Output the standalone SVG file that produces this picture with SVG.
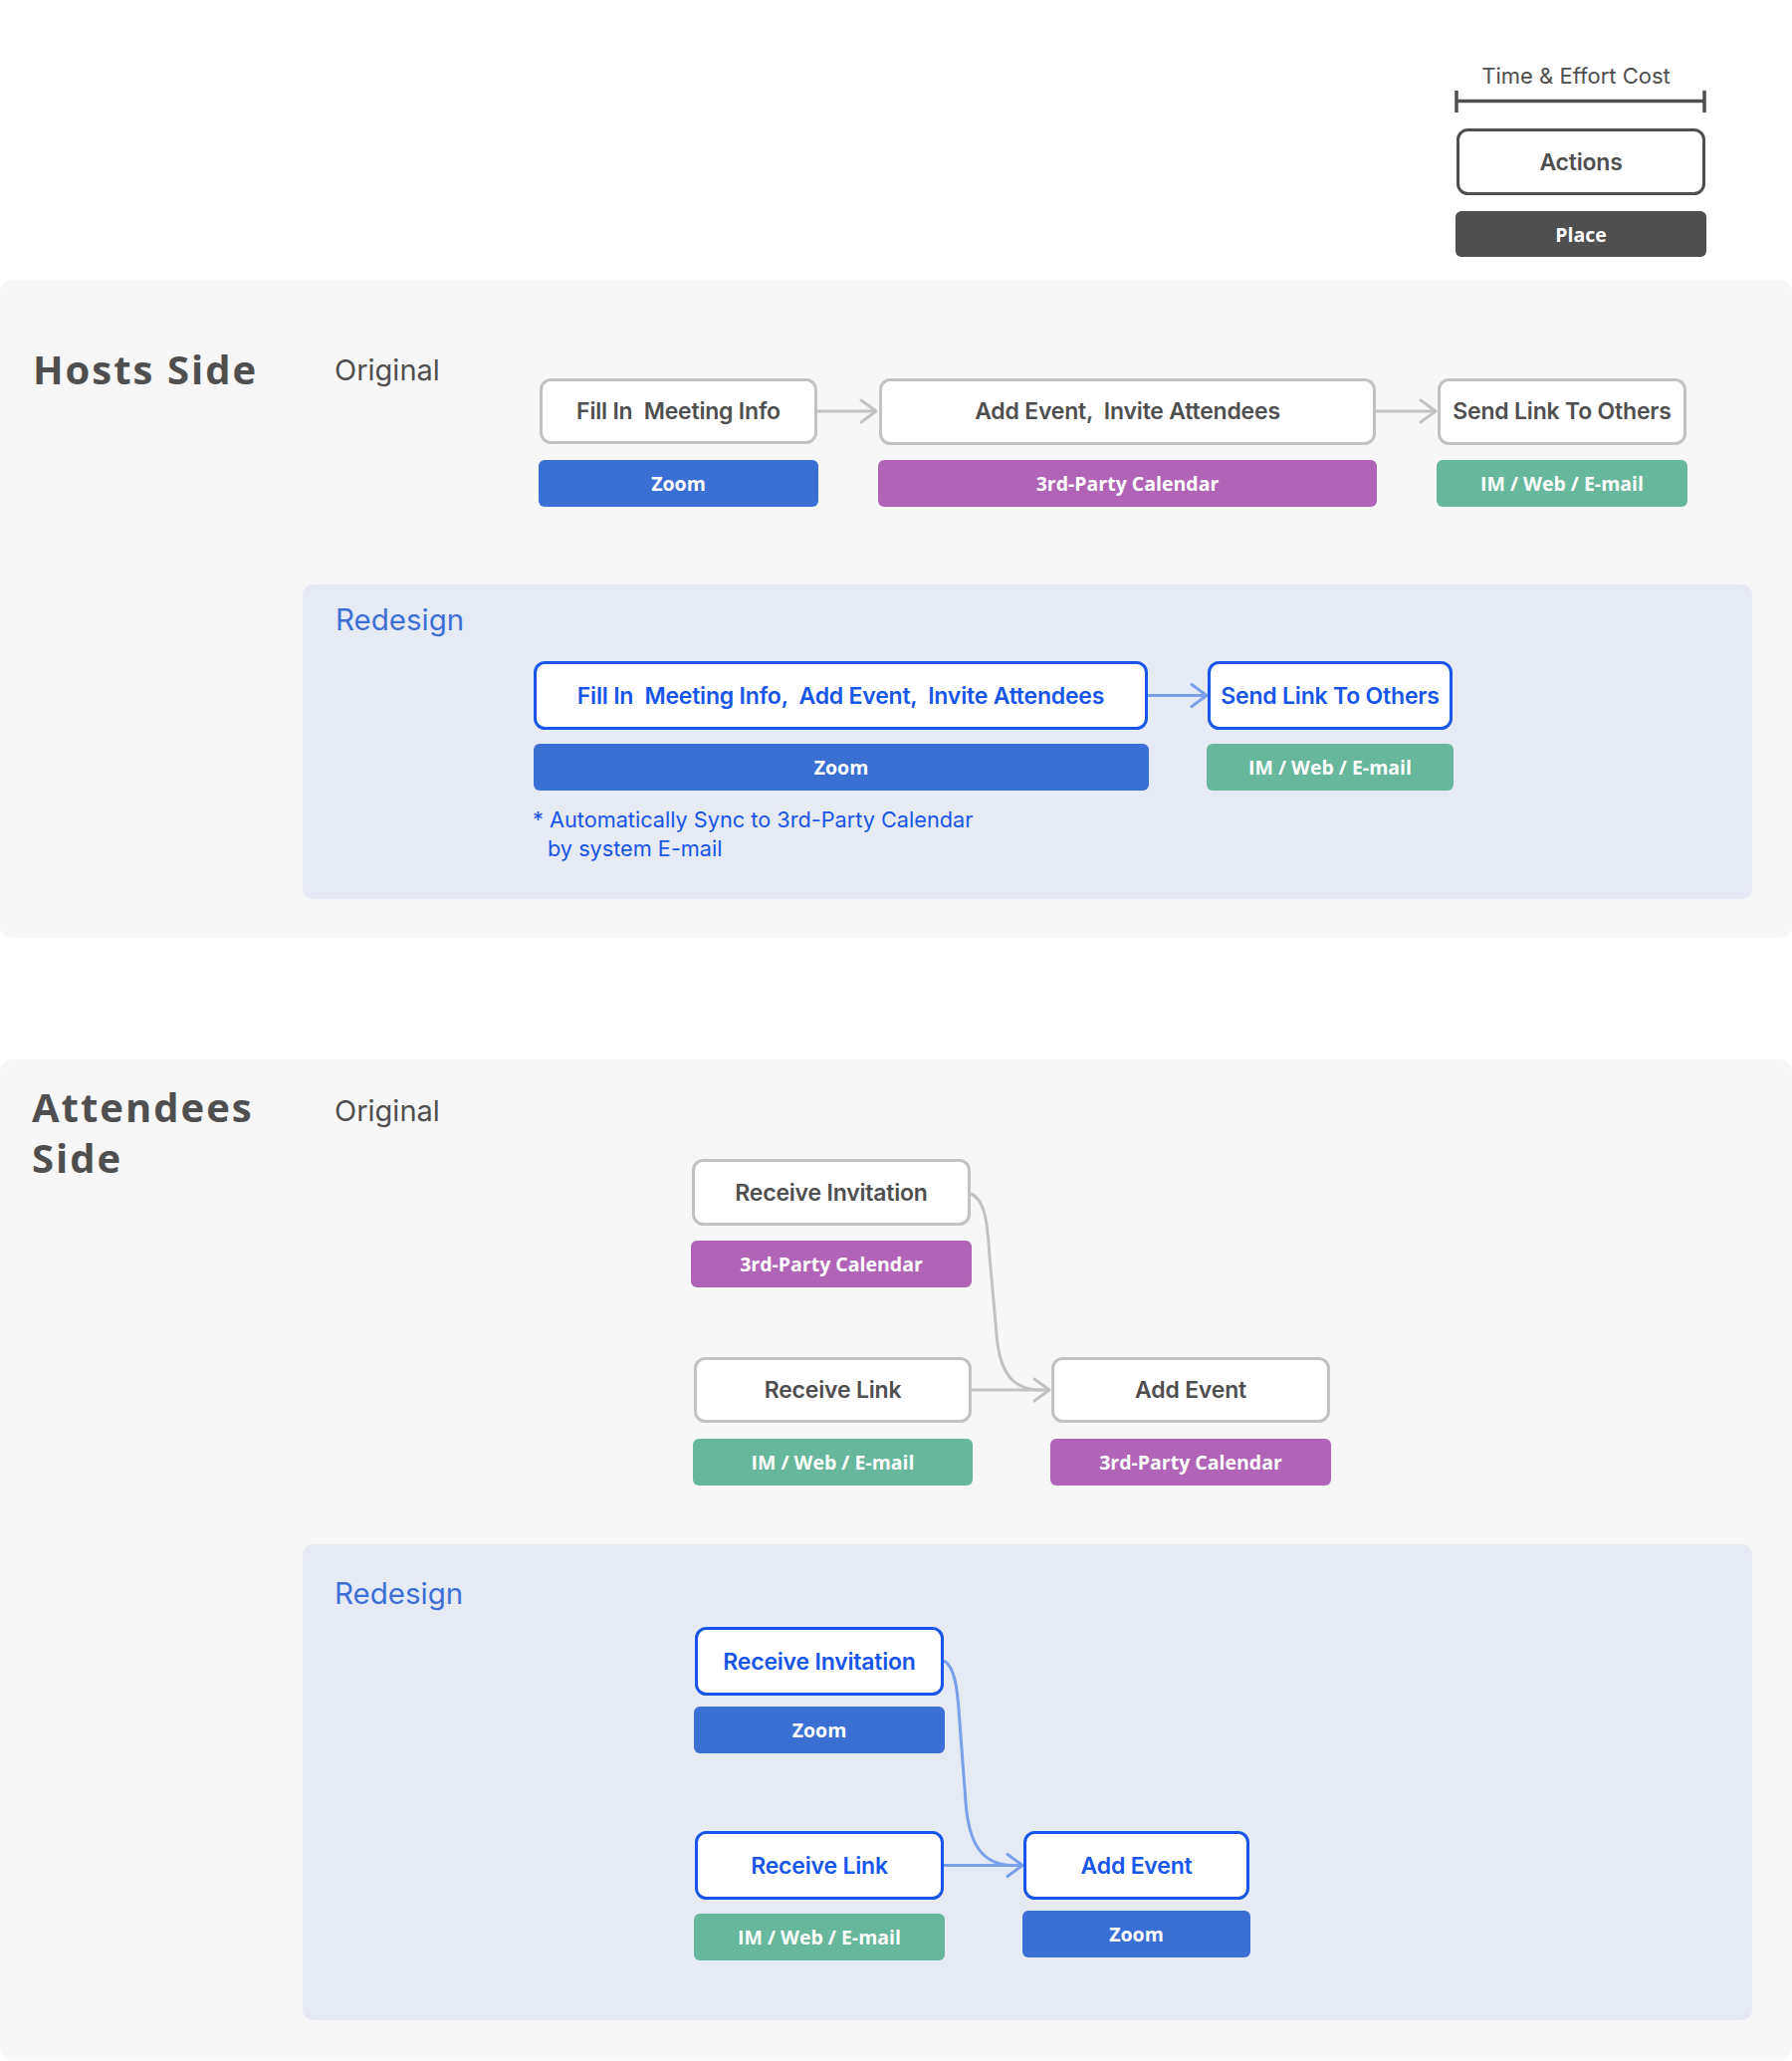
<svg xmlns="http://www.w3.org/2000/svg" width="1800" height="2070" viewBox="0 0 1800 2070" xml:space="preserve">
<style>
.panel{fill:#f7f7f7}
.rpanel{fill:#e6eaf5}
.title{font-family:"Open Sans",sans-serif;font-weight:700;font-size:40px;letter-spacing:2px;fill:#4f4f4f}
.sub{font-family:Inter,"Noto Sans",sans-serif;font-weight:400;font-size:29px;fill:#4f4f4f}
.rsub{font-family:Inter,"Noto Sans",sans-serif;font-weight:400;font-size:29.5px;fill:#3d6fd6}
.box{fill:#ffffff;stroke:#c2c2c2;stroke-width:3}
.rbox{fill:#ffffff;stroke:#1756e8;stroke-width:3}
.lbl{font-family:Inter,"Noto Sans",sans-serif;font-weight:600;font-size:23px;fill:#4f4f4f;text-anchor:middle;dominant-baseline:central;letter-spacing:-0.2px;white-space:pre}
.rlbl{font-family:Inter,"Noto Sans",sans-serif;font-weight:600;font-size:23px;fill:#1756e8;text-anchor:middle;dominant-baseline:central;letter-spacing:-0.2px;white-space:pre}
.tagt{font-family:"Open Sans",sans-serif;font-weight:700;font-size:19.5px;fill:#ffffff;text-anchor:middle;dominant-baseline:central}
.blue{fill:#3a6fd4}
.purple{fill:#b163b8}
.green{fill:#66b79b}
.dark{fill:#4f4f4f}
.conn{fill:none;stroke:#c2c2c2;stroke-width:3}
.rconn{fill:none;stroke:#7ba0ea;stroke-width:3}
.note{font-family:Inter,"Noto Sans",sans-serif;font-weight:400;font-size:21.7px;fill:#1756e8}
</style>
<defs>
<marker id="ag" markerUnits="userSpaceOnUse" markerWidth="22" markerHeight="28" viewBox="0 0 22 28" refX="18" refY="14" orient="auto">
<path d="M3 3 L18 14 L3 25" fill="none" stroke="#c2c2c2" stroke-width="3" stroke-linecap="round" stroke-linejoin="round"/>
</marker>
<marker id="ab" markerUnits="userSpaceOnUse" markerWidth="22" markerHeight="28" viewBox="0 0 22 28" refX="18" refY="14" orient="auto">
<path d="M3 3 L18 14 L3 25" fill="none" stroke="#7ba0ea" stroke-width="3" stroke-linecap="round" stroke-linejoin="round"/>
</marker>
</defs>
<rect width="1800" height="2070" fill="#ffffff"/>
<g id="legend">
<text x="1583" y="84" text-anchor="middle" font-family="Inter, 'Noto Sans', sans-serif" font-size="22" fill="#4f4f4f">Time &amp; Effort Cost</text>
<line x1="1462" y1="101.5" x2="1713" y2="101.5" stroke="#4f4f4f" stroke-width="3.5"/>
<line x1="1463" y1="91" x2="1463" y2="113" stroke="#4f4f4f" stroke-width="3.5"/>
<line x1="1712" y1="91" x2="1712" y2="113" stroke="#4f4f4f" stroke-width="3.5"/>
<rect x="1464.5" y="130.5" width="247" height="64" rx="10" fill="#ffffff" stroke="#4f4f4f" stroke-width="3"/>
<text x="1588" y="163" class="lbl">Actions</text>
<rect x="1462" y="212" width="252" height="46" rx="6" class="dark"/>
<text x="1588" y="235" class="tagt">Place</text>
</g>
<rect x="0" y="281" width="1800" height="661" rx="12" class="panel"/>
<rect x="304" y="587" width="1456" height="316" rx="10" class="rpanel"/>
<rect x="0" y="1064" width="1800" height="1005" rx="12" class="panel"/>
<rect x="304" y="1551" width="1456" height="478" rx="10" class="rpanel"/>
<text x="33" y="386" class="title">Hosts Side</text>
<text x="336" y="382" class="sub">Original</text>
<text x="337" y="633" class="rsub">Redesign</text>
<text x="32" y="1127" class="title">Attendees</text>
<text x="32" y="1178" class="title">Side</text>
<text x="336" y="1126" class="sub">Original</text>
<text x="336" y="1611" class="rsub">Redesign</text>
<g id="connectors">
<path d="M821 413 H880" class="conn" marker-end="url(#ag)"/>
<path d="M1382 413 H1442" class="conn" marker-end="url(#ag)"/>
<path d="M1153 698.5 H1212" class="rconn" marker-end="url(#ab)"/>
<path d="M976 1396 H1054" class="conn" marker-end="url(#ag)"/>
<path d="M975 1199 C990 1205 992 1230 994 1262 L1001 1340 C1004 1380 1018 1396 1046 1396" class="conn"/>
<path d="M948 1873.5 H1027" class="rconn" marker-end="url(#ab)"/>
<path d="M948 1668 C960 1674 962 1700 964 1730 L970 1810 C973 1850 985 1873.5 1018 1873.5" class="rconn"/>
</g>
<g id="h-fill">
<rect x="543.5" y="381.5" width="276" height="63" rx="10" class="box"/>
<text x="681.5" y="413" class="lbl">Fill In  Meeting Info</text>
<rect x="541" y="462" width="281" height="47" rx="6" class="blue"/>
<text x="681.5" y="485.5" class="tagt">Zoom</text>
</g>
<g id="h-add">
<rect x="884.5" y="381.5" width="496" height="64" rx="10" class="box"/>
<text x="1132.5" y="413" class="lbl">Add Event,  Invite Attendees</text>
<rect x="882" y="462" width="501" height="47" rx="6" class="purple"/>
<text x="1132.5" y="485.5" class="tagt">3rd-Party Calendar</text>
</g>
<g id="h-send">
<rect x="1445.5" y="381.5" width="247" height="64" rx="10" class="box"/>
<text x="1569" y="413" class="lbl">Send Link To Others</text>
<rect x="1443" y="462" width="252" height="47" rx="6" class="green"/>
<text x="1569" y="485.5" class="tagt">IM / Web / E-mail</text>
</g>
<g id="hr-fill">
<rect x="537.5" y="665.5" width="614" height="66" rx="10" class="rbox"/>
<text x="844.5" y="698.5" class="rlbl">Fill In  Meeting Info,  Add Event,  Invite Attendees</text>
<rect x="536" y="747" width="618" height="47" rx="6" class="blue"/>
<text x="845" y="770.5" class="tagt">Zoom</text>
</g>
<g id="hr-send">
<rect x="1214.5" y="665.5" width="243" height="66" rx="10" class="rbox"/>
<text x="1336" y="698.5" class="rlbl">Send Link To Others</text>
<rect x="1212" y="747" width="248" height="47" rx="6" class="green"/>
<text x="1336" y="770.5" class="tagt">IM / Web / E-mail</text>
</g>
<g id="hr-note">
<text x="535" y="831" class="note">* Automatically Sync to 3rd-Party Calendar</text>
<text x="550" y="860" class="note">by system E-mail</text>
</g>
<g id="a-inv">
<rect x="696.5" y="1165.5" width="277" height="64" rx="10" class="box"/>
<text x="835" y="1197.5" class="lbl">Receive Invitation</text>
<rect x="694" y="1246" width="282" height="47" rx="6" class="purple"/>
<text x="835" y="1269.5" class="tagt">3rd-Party Calendar</text>
</g>
<g id="a-link">
<rect x="698.5" y="1364.5" width="276" height="63" rx="10" class="box"/>
<text x="836.5" y="1396" class="lbl">Receive Link</text>
<rect x="696" y="1445" width="281" height="47" rx="6" class="green"/>
<text x="836.5" y="1468.5" class="tagt">IM / Web / E-mail</text>
</g>
<g id="a-add">
<rect x="1057.5" y="1364.5" width="277" height="63" rx="10" class="box"/>
<text x="1196" y="1396" class="lbl">Add Event</text>
<rect x="1055" y="1445" width="282" height="47" rx="6" class="purple"/>
<text x="1196" y="1468.5" class="tagt">3rd-Party Calendar</text>
</g>
<g id="ar-inv">
<rect x="699.5" y="1635.5" width="247" height="66" rx="10" class="rbox"/>
<text x="823" y="1668.5" class="rlbl">Receive Invitation</text>
<rect x="697" y="1714" width="252" height="47" rx="6" class="blue"/>
<text x="823" y="1737.5" class="tagt">Zoom</text>
</g>
<g id="ar-link">
<rect x="699.5" y="1840.5" width="247" height="66" rx="10" class="rbox"/>
<text x="823" y="1873.5" class="rlbl">Receive Link</text>
<rect x="697" y="1922" width="252" height="47" rx="6" class="green"/>
<text x="823" y="1945.5" class="tagt">IM / Web / E-mail</text>
</g>
<g id="ar-add">
<rect x="1029.5" y="1840.5" width="224" height="66" rx="10" class="rbox"/>
<text x="1141.5" y="1873.5" class="rlbl">Add Event</text>
<rect x="1027" y="1919" width="229" height="47" rx="6" class="blue"/>
<text x="1141.5" y="1942.5" class="tagt">Zoom</text>
</g>
</svg>
